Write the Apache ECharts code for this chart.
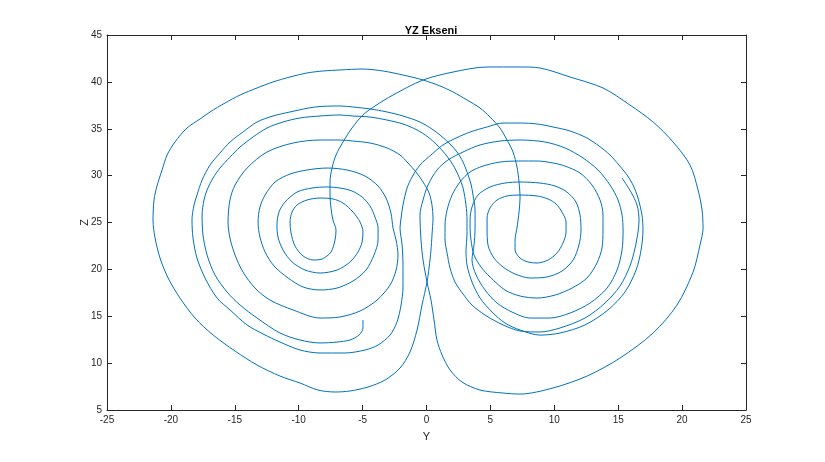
<!DOCTYPE html>
<html>
<head>
<meta charset="utf-8">
<script src="https://cdn.jsdelivr.net/npm/echarts@6/dist/echarts.min.js"></script>
<style>
html,body{margin:0;padding:0;background:#ffffff;}
#chart{width:825px;height:462px;}
</style>
</head>
<body>
<div id="chart"></div>
<script>
// Axis ticks
const xTicks = [-25,-20,-15,-10,-5,0,5,10,15,20,25];
const zTicks = [5,10,15,20,25,30,35,40,45];

// Trajectory pieces [Y, Z], in drawing order
// 1: left hook start, over the left top to the right lobe
const seg1 = [[-4.97,14.60],[-4.97,13.75],[-5.28,13.00],[-5.98,12.47],[-7.00,12.25],[-8.33,12.15],[-9.90,12.47],[-11.46,13.21],[-13.26,14.81],[-14.59,16.20],[-15.61,17.59],[-16.55,19.40],[-17.17,21.53],[-17.49,23.67],[-17.56,25.80],[-17.41,27.40],[-17.17,28.47],[-16.70,29.75],[-16.16,30.81],[-15.37,31.98],[-14.59,33.05],[-13.57,34.12],[-12.48,35.08],[-11.23,35.72],[-9.90,36.15],[-8.33,36.36],[-6.77,36.47],[-5.75,36.36],[-4.42,36.25],[-3.09,35.93],[-1.84,35.51],[-0.74,34.87],[0.12,34.12],[0.82,33.27],[1.53,32.20],[2.08,31.13],[2.55,29.85],[2.86,28.68],[3.09,26.87],[3.17,25.27],[3.17,23.67]];
// 2: right loop, back across the top to the left
const seg2 = [[3.09,22.07],[3.17,20.47],[3.56,18.65],[4.19,16.94],[5.13,15.45],[6.14,14.28],[7.32,13.53],[8.88,12.99],[10.45,13.21],[12.40,14.07],[14.20,15.67],[15.53,17.59],[16.40,19.93],[16.79,22.07],[16.94,24.20],[16.86,25.80],[16.55,27.61],[16.16,29.00],[15.69,30.07],[15.06,31.13],[14.36,32.20],[13.50,33.16],[12.56,34.01],[11.23,34.76],[9.90,35.19],[8.65,35.51],[7.32,35.61],[5.99,35.61],[4.74,35.19],[3.41,34.65],[2.31,34.01],[1.29,33.27],[0.35,32.20],[-0.51,31.13],[-1.13,29.85],[-1.52,28.68],[-1.84,26.87],[-1.99,25.48],[-2.07,24.41]];
// 3: left loop, over to the right
const seg3 = [[-1.91,22.60],[-1.84,20.47],[-1.84,18.12],[-1.99,16.20],[-2.31,14.38],[-2.85,13.00],[-3.79,11.93],[-4.81,11.40],[-6.37,11.08],[-8.33,11.08],[-9.90,11.40],[-11.46,12.25],[-12.79,13.11],[-14.04,14.07],[-15.37,15.67],[-16.39,16.94],[-17.33,19.08],[-17.96,21.21],[-18.27,23.35],[-18.35,25.27],[-18.19,26.87],[-17.96,27.93],[-17.56,29.53],[-16.94,31.13],[-16.16,32.41],[-15.37,33.59],[-14.36,34.65],[-13.26,35.72],[-12.01,36.36],[-10.68,36.79],[-8.72,37.32],[-6.77,37.43],[-5.75,37.32],[-4.42,37.11],[-3.09,36.79],[-1.84,36.36],[-0.51,35.72],[0.43,34.97],[1.06,34.33],[1.84,33.37],[2.39,32.52],[2.86,31.45],[3.17,30.39],[3.48,29.11],[3.64,27.93],[3.80,26.33],[3.80,24.41]];
// 4: right loop, down through the centre, outer right loop, dive into left
const seg4 = [[3.72,22.60],[3.56,21.00],[3.88,19.40],[4.58,17.80],[5.52,16.41],[6.69,15.45],[8.10,14.81],[9.67,14.81],[11.23,15.34],[12.80,16.41],[14.13,18.01],[14.91,19.93],[15.30,22.07],[15.38,24.20],[15.30,25.80],[14.99,27.40],[14.36,29.00],[13.42,30.60],[12.25,31.88],[10.84,32.95],[9.27,33.59],[7.32,33.80],[5.75,33.69],[4.19,33.27],[2.86,32.52],[1.68,31.67],[0.82,30.60],[0.12,29.00],[-0.27,27.40],[-0.51,25.80],[-0.43,23.13],[-0.27,21.00],[0.04,18.65],[0.35,16.73],[0.59,14.60],[0.82,12.47],[1.22,10.87],[1.84,9.27],[2.78,7.98],[4.19,7.13],[5.99,6.81],[7.32,6.70],[9.90,7.35],[12.56,8.62],[15.14,10.54],[17.73,13.21],[19.60,16.20],[20.86,19.72],[21.40,22.60],[21.64,24.41],[21.56,26.33],[21.25,28.47],[20.62,31.13],[19.29,33.59],[17.73,35.72],[15.92,37.53],[13.81,39.35],[11.23,40.52],[8.88,41.48],[7.32,41.59],[4.74,41.59],[2.08,41.05],[-0.27,40.20],[-2.62,38.60],[-4.03,37.43],[-4.97,36.47],[-5.83,35.08],[-6.53,33.59],[-7.08,32.20],[-7.39,30.81],[-7.55,29.32],[-7.55,27.93],[-7.47,26.52],[-7.32,25.27],[-7.08,24.20]];
// 5: left spiral outwards, centre crossing, outer left loop, over to the right
const seg5 = [[-7.16,23.13],[-7.47,21.85],[-8.17,21.11],[-8.88,21.00],[-9.66,21.43],[-10.29,22.49],[-10.60,23.88],[-10.68,25.05],[-10.52,26.12],[-10.13,26.87],[-9.35,27.40],[-8.33,27.61],[-7.32,27.51],[-6.53,27.08],[-5.75,26.12],[-5.20,25.05],[-4.97,23.99],
 [-5.04,22.92],[-5.36,21.85],[-5.98,20.79],[-7.00,19.93],[-8.33,19.61],[-9.50,19.93],[-10.52,20.79],[-11.23,22.07],[-11.62,23.45],[-11.70,24.73],[-11.54,26.12],[-11.07,27.18],[-10.13,28.25],[-8.96,28.68],[-7.78,28.79],[-6.77,28.68],[-5.83,28.36],[-5.04,27.72],[-4.42,26.76],[-4.03,25.58],[-3.79,24.41],
 [-3.79,23.13],[-4.11,21.53],[-4.73,19.93],[-5.75,18.76],[-7.00,18.01],[-8.33,17.80],[-9.66,18.12],[-10.83,19.08],[-11.93,20.36],[-12.63,21.85],[-13.03,23.45],[-13.18,25.05],[-13.03,26.65],[-12.63,27.93],[-11.85,29.32],[-10.68,30.17],[-9.35,30.60],[-7.78,30.81],[-6.22,30.60],[-4.81,29.96],[-3.79,28.89],[-3.17,27.61],[-2.78,26.01],[-2.62,24.41],
 [-2.38,23.13],[-2.23,21.53],[-2.38,19.93],[-2.85,18.33],[-3.87,16.73],[-5.20,15.56],[-6.77,14.92],[-8.33,14.81],[-10.44,15.67],[-12.25,16.73],[-13.42,18.01],[-14.36,19.72],[-14.98,21.53],[-15.38,23.35],[-15.53,25.05],[-15.38,27.40],[-14.98,29.00],[-14.04,30.81],[-12.48,32.52],[-10.44,33.48],[-8.33,33.80],[-6.77,33.80],[-5.75,33.69],[-4.42,33.48],[-3.09,32.95],[-2.07,32.20],[-1.52,31.45],[-0.82,30.39],[-0.27,29.32],[0.20,28.15],[0.43,26.87],[0.51,25.48],[0.43,23.67],[0.35,22.07],[0.20,20.15],[0.04,18.65],[-0.35,16.20],[-0.74,13.53],[-1.29,11.19],[-2.07,9.48],[-3.24,8.20],[-4.58,7.45],[-5.98,7.03],[-7.16,6.92],[-8.49,7.13],[-9.90,7.88],[-11.46,8.62],[-13.26,9.80],[-14.98,11.29],[-16.70,13.00],[-18.11,14.81],[-19.29,16.94],[-20.22,19.08],[-20.85,21.21],[-21.24,23.35],[-21.40,25.27],[-21.32,27.40],[-21.09,28.89],[-20.69,30.60],[-20.30,32.20],[-19.68,33.59],[-18.74,35.08],[-17.72,36.04],[-16.94,36.79],[-15.76,37.75],[-14.59,38.60],[-13.26,39.35],[-12.01,39.99],[-10.68,40.52],[-9.35,40.95],[-8.10,41.16],[-6.77,41.27],[-4.97,41.37],[-3.40,41.16],[-1.84,40.73],[-0.27,40.20],[1.06,39.56],[2.08,38.92],[3.17,38.07],[4.19,37.21],[4.97,36.25],[5.75,35.08],[6.30,33.80],[6.77,32.52],[7.08,30.92],[7.24,29.32],[7.32,27.61],[7.24,26.12],[7.08,24.41]];
// 6: right spiral outwards to the end
const seg6 = [[6.93,23.13],[6.93,22.07],[7.32,21.21],[7.94,20.79],[8.65,20.68],[9.51,21.00],[10.21,21.75],[10.68,22.81],[10.92,23.99],[10.92,25.05],[10.60,26.12],[10.14,26.97],[9.51,27.51],[8.65,27.83],[7.32,27.93],[6.30,27.83],[5.52,27.40],[4.97,26.55],[4.74,25.48],[4.74,24.41],
 [4.81,22.60],[5.28,21.21],[5.99,20.25],[6.93,19.51],[8.10,19.08],[9.43,19.19],[10.60,19.82],[11.47,21.00],[11.93,22.60],[12.09,24.20],[12.01,25.80],[11.70,27.18],[10.99,28.25],[10.06,28.89],[8.88,29.21],[7.32,29.32],[6.14,29.21],[4.97,28.79],[4.03,27.93],[3.56,26.65],[3.41,25.27],[3.41,24.41],
 [3.48,23.13],[3.72,21.53],[4.27,20.25],[4.97,19.19],[6.14,17.80],[7.32,17.16],[8.65,16.94],[10.06,17.26],[11.39,18.01],[12.56,19.08],[13.34,20.68],[13.73,22.28],[13.81,24.20],[13.81,25.80],[13.58,27.40],[12.95,29.00],[12.01,30.28],[10.84,31.02],[9.90,31.35],[8.65,31.56],[7.32,31.56],[5.75,31.45],[4.42,31.02],[3.41,30.39],[2.62,29.32],[2.00,27.93],[1.61,26.33],[1.45,24.73],[1.45,23.13],
 [1.61,21.74],[1.84,20.15],[2.23,18.65],[2.86,17.37],[3.56,16.20],[4.58,15.13],[5.99,14.07],[7.32,13.43],[8.88,13.32],[10.45,13.75],[12.40,14.81],[13.97,16.41],[15.14,18.22],[15.92,20.36],[16.32,22.28],[16.55,23.99],[16.63,25.27],[16.47,26.87],[16.00,28.25],[15.30,29.75]];

const trajectory = [].concat(seg1, seg2, seg3, seg4, seg5, seg6);

const axisColor = '#262626';
const fontFam = 'Liberation Sans, Arial, sans-serif';
const labelFont = {color: axisColor, fontSize: 10, fontFamily: fontFam};

const chart = echarts.init(document.getElementById('chart'), null, {renderer: 'canvas'});
chart.setOption({
  backgroundColor: '#ffffff',
  animation: false,
  title: {
    text: 'YZ Ekseni', left: 426, top: 20, textAlign: 'center',
    textStyle: {fontSize: 11, fontWeight: 'bold', color: '#000', fontFamily: fontFam}
  },
  grid: {left: 107, right: 79, top: 35, bottom: 52},
  xAxis: [{
    type: 'value', min: -25, max: 25, interval: 5, position: 'bottom',
    name: 'Y', nameLocation: 'middle', nameGap: 21, nameMoveOverlap: false,
    nameTextStyle: {color: axisColor, fontSize: 11, fontFamily: fontFam},
    axisLine: {show: true, onZero: false, lineStyle: {color: axisColor, width: 1}},
    axisTick: {show: true, inside: true, length: 5, lineStyle: {color: axisColor}},
    axisLabel: Object.assign({margin: 5, formatter: v => xTicks.includes(v) ? String(v) : ''}, labelFont),
    splitLine: {show: false}
  }, {
    type: 'value', min: -25, max: 25, interval: 5, position: 'top',
    axisLine: {show: true, onZero: false, lineStyle: {color: axisColor, width: 1}},
    axisTick: {show: true, inside: true, length: 5, lineStyle: {color: axisColor}},
    axisLabel: {show: false}, splitLine: {show: false}
  }],
  yAxis: [{
    type: 'value', min: 5, max: 45, interval: 5, position: 'left',
    name: 'Z', nameLocation: 'middle', nameGap: 17, nameRotate: 90, nameMoveOverlap: false,
    nameTextStyle: {color: axisColor, fontSize: 11, fontFamily: fontFam},
    axisLine: {show: true, onZero: false, lineStyle: {color: axisColor, width: 1}},
    axisTick: {show: true, inside: true, length: 5, lineStyle: {color: axisColor}},
    axisLabel: Object.assign({margin: 5, formatter: v => zTicks.includes(v) ? String(v) : ''}, labelFont),
    splitLine: {show: false}
  }, {
    type: 'value', min: 5, max: 45, interval: 5, position: 'right',
    axisLine: {show: true, onZero: false, lineStyle: {color: axisColor, width: 1}},
    axisTick: {show: true, inside: true, length: 5, lineStyle: {color: axisColor}},
    axisLabel: {show: false}, splitLine: {show: false}
  }],
  series: [{
    type: 'line', xAxisIndex: 0, yAxisIndex: 0,
    data: trajectory, showSymbol: false, smooth: 0.3,
    lineStyle: {color: '#0072BD', width: 1}, itemStyle: {color: '#0072BD'}
  }]
});
</script>
</body>
</html>
